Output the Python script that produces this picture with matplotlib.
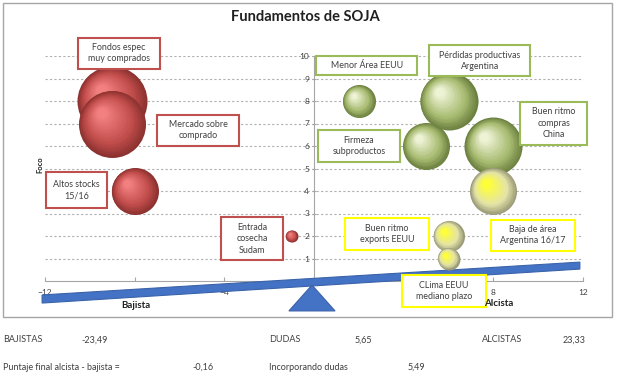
import numpy as np
import matplotlib.pyplot as plt
import matplotlib.transforms as mtransforms
from matplotlib.colors import to_rgb
from matplotlib.patches import Rectangle, Polygon

plt.rcParams['font.family'] = ['Lato', 'DejaVu Sans']

# Datos de las burbujas (x = sesgo, y = foco, diametro relativo en px)
nombres = ["Fondos espec\nmuy comprados", "Mercado sobre\ncomprado", "Altos stocks\n15/16",
           "Entrada\ncosecha\nSudam", "Firmeza\nsubproductos", "Menor Área EEUU",
           "Buen ritmo\ncompras\nChina", "Pérdidas productivas\nArgentina",
           "Baja de área\nArgentina 16/17", "Buen ritmo\nexports EEUU", "CLima EEUU\nmediano plazo"]
sesgo = [-9, -9, -8, -1, 5, 2, 8, 6, 8, 6, 6]
foco = [8, 7, 4, 2, 6, 8, 6, 8, 4, 2, 1]
diametro = [70, 67, 47, 12, 47, 33, 58, 58, 47, 31, 22]
grupo = ["bajista"] * 4 + ["alcista"] * 4 + ["duda"] * 3

# Resumen
bajistas = -23.49
dudas = 5.65
alcistas = 23.33
puntaje = -0.16
incorporando = 5.49

# Posiciones de las etiquetas (centro x, centro y, ancho, alto) en unidades del grafico
cajas = [(-8.7, 10.13, 3.66, 1.38), (-5.17, 6.71, 3.66, 1.38), (-10.6, 4.04, 2.72, 1.6),
         (-2.77, 1.87, 2.77, 1.91), (2.0, 6.0, 3.66, 1.38), (2.36, 9.56, 4.5, 0.84),
         (10.7, 7.02, 3.0, 1.91), (7.4, 9.78, 4.5, 1.38),
         (9.77, 2.04, 3.75, 1.38), (3.26, 2.09, 3.75, 1.38), (5.8, -0.44, 3.75, 1.42)]

colores = {
    "bajista": ("#8C3230", "#C24E4C", "#F28080", "#C0504D"),
    "alcista": ("#6C8040", "#A7BB70", "#EEF3D6", "#9BBB59"),
    "duda": ("#9A9A78", "#E4E4A8", "#FFFF38", "#FFFF00"),
}

fig = plt.figure(figsize=(6.4, 3.73), dpi=100)
ax = fig.add_axes([45/640, 1 - 281/373, 538/640, 225/373])
ax.set_xlim(-12, 12)
ax.set_ylim(0, 10)
ax.patch.set_alpha(0)

for s in ['top', 'right']:
    ax.spines[s].set_visible(False)
ax.spines['left'].set_position(('data', 0))
ax.spines['bottom'].set_position(('data', 0))
for s in ['left', 'bottom']:
    ax.spines[s].set_color('#A6A6A6')
ax.set_xticks([-12, -8, -4, 0, 4, 8, 12])
ax.set_yticks(range(1, 11))
ax.tick_params(axis='both', labelsize=6, colors='#A6A6A6', labelcolor='#404040', length=3)
ax.tick_params(axis='x', direction='in', pad=6)
ax.tick_params(axis='y', direction='inout', pad=2)
ax.yaxis.grid(True, linestyle=(0, (2, 2)), color='#B0B0B0', lw=0.8)
ax.set_axisbelow(True)

# Balanza
tabla = Polygon([(-12.13, -0.62), (11.86, 0.84), (11.86, 0.53), (-12.13, -0.98)],
                closed=True, fc='#4472C4', ec='#3A63AA', lw=0.8, clip_on=False, zorder=3)
ax.add_patch(tabla)
fulcro = Polygon([(-0.09, -0.18), (-1.12, -1.33), (0.94, -1.33)],
                 closed=True, fc='#4472C4', ec='#3A63AA', lw=0.8, clip_on=False, zorder=3)
ax.add_patch(fulcro)


def mezcla(c1, c2, t):
    a, b = np.array(to_rgb(c1)), np.array(to_rgb(c2))
    return tuple(a + (b - a) * t)


# Burbujas con sombreado tipo esfera
n_capas = 24
for i in range(len(nombres)):
    oscuro, medio, claro, _ = colores[grupo[i]]
    d_pt = diametro[i] * 0.72
    for k in range(n_capas):
        t = k / (n_capas - 1)
        if t < 0.35:
            col = mezcla(oscuro, medio, t / 0.35)
        else:
            col = mezcla(medio, claro, (t - 0.35) / 0.65)
        d = d_pt * (1 - 0.85 * t)
        off = 0.32 * t * d_pt / 2
        tr = mtransforms.offset_copy(ax.transData, fig=fig, x=-off, y=off, units='points')
        ax.scatter([sesgo[i]], [foco[i]], s=d ** 2, color=col, lw=0,
                   transform=tr, zorder=5 + i, clip_on=False)

# Etiquetas
for i in range(len(nombres)):
    cx, cy, w, h = cajas[i]
    borde = colores[grupo[i]][3]
    ax.add_patch(Rectangle((cx - w / 2, cy - h / 2), w, h, fc='white', ec=borde,
                           lw=1.5, clip_on=False, zorder=30))
    ax.text(cx, cy, nombres[i], ha='center', va='center', fontsize=6.4,
            color='#404040', linespacing=1.35, zorder=31)

# Textos del grafico
fig.text(305/640, 1 - 17/373, "Fundamentos de SOJA", ha='center', va='center',
         fontsize=10.5, fontweight='bold', color='#202020')
fig.text(40/640, 1 - 165/373, "Foco", rotation=90, ha='center', va='center',
         fontsize=5.5, fontweight='bold', color='#202020')
fig.text(136/640, 1 - 306/373, "Bajista", ha='center', va='center',
         fontsize=7, fontweight='bold', color='#202020')
fig.text(499/640, 1 - 304/373, "Alcista", ha='center', va='center',
         fontsize=7, fontweight='bold', color='#202020', zorder=0)

fig.add_artist(Rectangle((3/640, 1 - 317/373), 609/640, 314/373, transform=fig.transFigure,
                         fill=False, ec='#A6A6A6', lw=1))


def fmt(v):
    return f"{v:.2f}".replace('.', ',')


y1 = 1 - 340/373
y2 = 1 - 367/373
estilo = dict(fontsize=6.5, color='#404040', va='center', ha='left')
fig.text(3/640, y1, "BAJISTAS", **estilo)
fig.text(81/640, y1, fmt(bajistas), **estilo)
fig.text(269/640, y1, "DUDAS", **estilo)
fig.text(355/640, y1, fmt(dudas), **estilo)
fig.text(482/640, y1, "ALCISTAS", **estilo)
fig.text(563/640, y1, fmt(alcistas), **estilo)
fig.text(3/640, y2, "Puntaje final alcista - bajista =", **estilo)
fig.text(192/640, y2, fmt(puntaje), **estilo)
fig.text(269/640, y2, "Incorporando dudas", **estilo)
fig.text(408/640, y2, fmt(incorporando), **estilo)

fig.savefig('out.png', dpi=100)
